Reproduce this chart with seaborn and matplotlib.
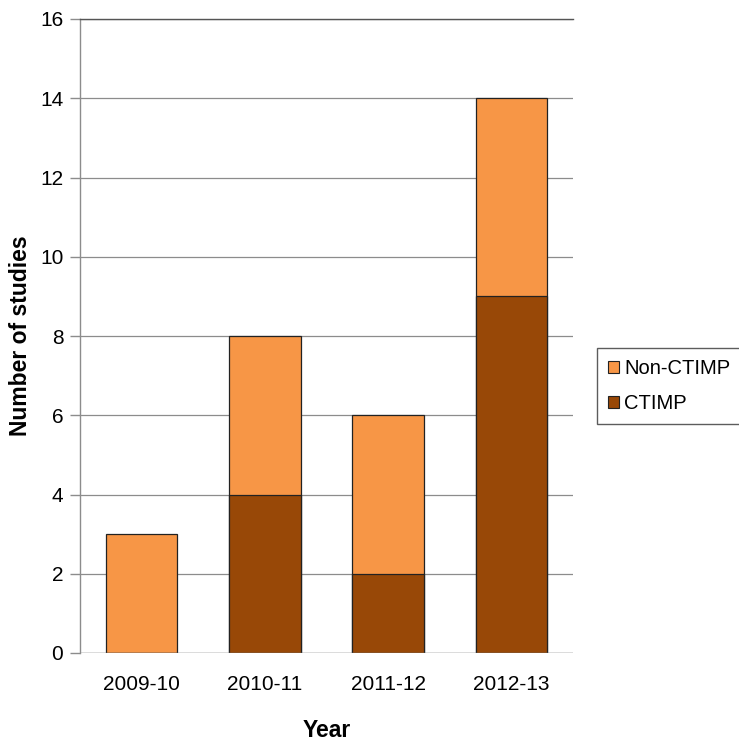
import matplotlib
matplotlib.use("Agg")
import matplotlib.pyplot as plt
import seaborn as sns
import pandas as pd

years = ["2009-10", "2010-11", "2011-12", "2012-13"]
ctimp = [0, 4, 2, 9]
non_ctimp = [3, 4, 4, 5]
series_names = ["Non-CTIMP", "CTIMP"]
colors = {"Non-CTIMP": "#F79646", "CTIMP": "#984807"}

sns.set_theme(style="white")
plt.rcParams["font.family"] = ["Liberation Sans", "DejaVu Sans"]
plt.rcParams["text.color"] = "black"
plt.rcParams["axes.labelcolor"] = "black"
plt.rcParams["xtick.color"] = "black"
plt.rcParams["ytick.color"] = "black"

fig = plt.figure(figsize=(7.39, 7.45), dpi=100)
ax = fig.add_axes([80 / 739, 92 / 745, 493 / 739, 634 / 745])

# Stacked bars: CTIMP at the base, Non-CTIMP stacked on top (total height)
totals = [c + n for c, n in zip(ctimp, non_ctimp)]
df_total = pd.DataFrame({"Year": years, "Studies": totals})
df_base = pd.DataFrame({"Year": years, "Studies": ctimp})

sns.barplot(data=df_total, x="Year", y="Studies", color=colors["Non-CTIMP"],
            width=0.58, edgecolor="#222222", linewidth=0.9, saturation=1, ax=ax,
            zorder=3)
sns.barplot(data=df_base, x="Year", y="Studies", color=colors["CTIMP"],
            width=0.58, edgecolor="#222222", linewidth=0.9, saturation=1, ax=ax,
            zorder=4)

ax.set_ylim(0, 16)
ax.set_yticks(range(0, 17, 2))
ax.set_xlim(-0.5, 3.5)
ax.yaxis.grid(True, color="#8c8c8c", linewidth=0.9, zorder=0)
ax.set_axisbelow(True)

for side in ["right", "bottom"]:
    ax.spines[side].set_visible(False)
ax.spines["left"].set_color("#8c8c8c")
ax.spines["left"].set_linewidth(1.0)
ax.spines["top"].set_color("#555555")
ax.spines["top"].set_linewidth(1.0)
ax.axhline(0, color="#8c8c8c", linewidth=1.0, zorder=5)

ax.tick_params(axis="y", which="both", left=True, length=7, width=1.0,
               color="#8c8c8c", labelcolor="black", labelsize=15, pad=5)
ax.tick_params(axis="x", bottom=False, labelcolor="black", labelsize=15, pad=10)

ax.set_xlabel("Year", fontsize=16.5, fontweight="bold", labelpad=18)
ax.set_ylabel("Number of studies", fontsize=16.5, fontweight="bold", labelpad=6)

handles = [plt.Rectangle((0, 0), 1, 1, facecolor=colors[n], edgecolor="#222222",
                         linewidth=0.8) for n in series_names]
leg = fig.legend(handles, series_names, loc="upper left",
                 bbox_to_anchor=(597 / 739, 1 - 348 / 745), borderaxespad=0,
                 fontsize=14.5, frameon=True, fancybox=False, edgecolor="#333333",
                 handlelength=0.55, handleheight=0.55, handletextpad=0.25,
                 labelspacing=0.8, borderpad=0.55)
leg.get_frame().set_linewidth(1.0)

fig.savefig("out.png", dpi=100)
